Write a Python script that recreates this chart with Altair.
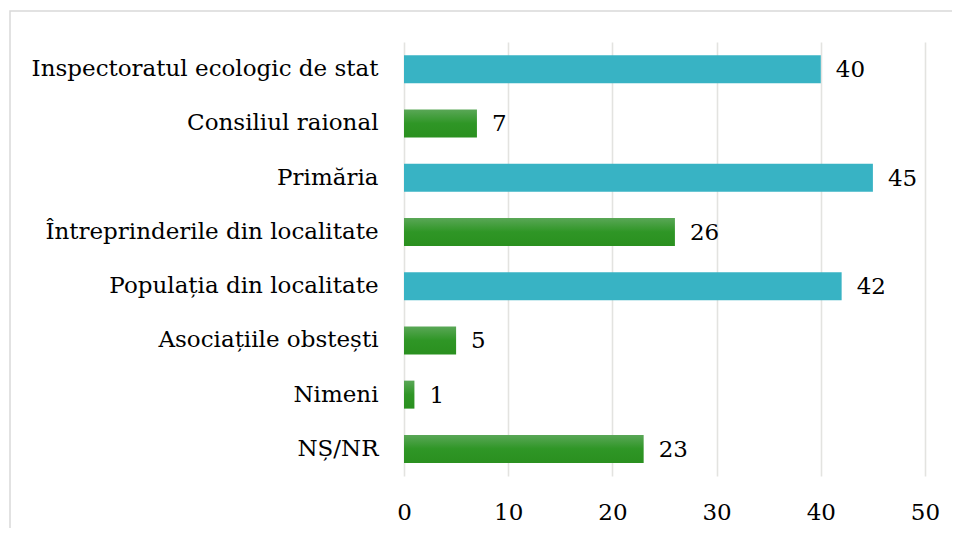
import altair as alt
import pandas as pd

categories = [
    "Inspectoratul ecologic de stat",
    "Consiliul raional",
    "Primăria",
    "Întreprinderile din localitate",
    "Populația din localitate",
    "Asociațiile obstești",
    "Nimeni",
    "NȘ/NR",
]
values = [40, 7, 45, 26, 42, 5, 1, 23]
groups = ["teal", "green", "teal", "green", "teal", "green", "green", "green"]
x_ticks = [0, 10, 20, 30, 40, 50]

df = pd.DataFrame({"cat": categories, "val": values, "grp": groups})

FONT = "DejaVu Serif"
FS = 23

y_enc = alt.Y("cat:N", sort=categories, title=None,
              scale=alt.Scale(paddingInner=0.48, paddingOuter=0.24),
              axis=alt.Axis(labelFont=FONT, labelFontSize=FS, labelColor="#000000",
                            labelPadding=26, ticks=False, domain=False, grid=False,
                            labelLimit=420))
x_enc = alt.X("val:Q", title=None,
              scale=alt.Scale(domain=[0, 50]),
              axis=alt.Axis(values=x_ticks, labelFont=FONT, labelFontSize=FS,
                            labelColor="#000000", labelPadding=25, ticks=False,
                            labelFlush=False, domain=False, grid=True,
                            gridColor="#e3e3e0", gridWidth=1.6))

base = alt.Chart(df)

teal = base.transform_filter(alt.datum.grp == "teal").mark_bar(
    color="#38b3c4", size=28).encode(x=x_enc, y=y_enc)

green = base.transform_filter(alt.datum.grp == "green").mark_bar(
    size=28,
    color=alt.Gradient(gradient="linear", x1=0, y1=0, x2=0, y2=1,
                       stops=[alt.GradientStop(offset=0, color="#5aa757"),
                              alt.GradientStop(offset=0.5, color="#2f9626"),
                              alt.GradientStop(offset=1, color="#2a901f")])
).encode(x=x_enc, y=y_enc)

labels = base.mark_text(align="left", baseline="middle", dx=15, dy=1,
                        font=FONT, fontSize=FS, color="#000000").encode(
    x=alt.X("val:Q"), y=alt.Y("cat:N", sort=categories), text=alt.Text("val:Q"))

border = alt.Chart(pd.DataFrame({"a": [0]})).mark_rect(
    fill=None, stroke="#d9d9d9", strokeWidth=1.5, clip=False).encode(
    x=alt.value(-394), x2=alt.value(600), y=alt.value(-31), y2=alt.value(520))

chart = alt.layer(border, teal, green, labels).properties(
    width=521, height=434,
    padding={"left": 396, "top": 34, "right": 27, "bottom": 52},
    autosize=alt.AutoSizeParams(type="none"),
).configure_view(stroke=None)

chart.save("out.html", embed_options={"renderer": "svg", "actions": False})
